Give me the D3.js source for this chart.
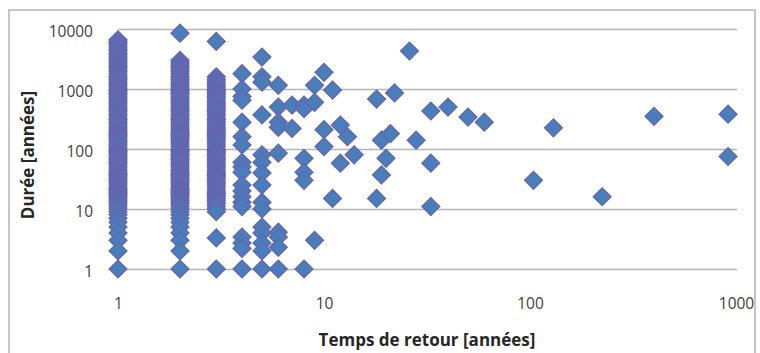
<!DOCTYPE html>
<html>
<head>
<meta charset="utf-8">
<script src="https://cdn.jsdelivr.net/npm/d3@7"></script>
<style>
  html, body { margin: 0; padding: 0; background: #ffffff; }
  svg { display: block; }
  .tick-label { font-family: "Open Sans", "Liberation Sans", sans-serif; font-size: 15.5px; fill: #404040; }
  .axis-title { font-family: "Open Sans", "Liberation Sans", sans-serif; font-size: 17px; font-weight: bold; fill: #262626; }
</style>
</head>
<body>
<svg id="chart" width="760" height="353"></svg>
<script>
// Return period (years) against event duration (years), log-log scatter.

// Dense columns: durations observed for the shortest return periods
const durationsT1 = [1, 2, 3, 4, 5, 6, 7, 8, 9, 10, 11, 12, 13, 14, 15, 16, 17, 18, 19, 20, 21, 22, 24, 26, 28, 30,
  32, 34, 36, 38, 40, 43, 46, 50, 54, 58, 62, 66, 70, 75, 80, 85, 90, 95, 100, 110, 120, 130, 140, 150, 160, 170,
  180, 190, 200, 215, 230, 250, 270, 290, 310, 330, 360, 390, 420, 450, 480, 520, 560, 600, 650, 700, 750, 800,
  850, 900, 950, 1000, 1080, 1160, 1250, 1350, 1450, 1550, 1650, 1800, 1950, 2100, 2250, 2400, 2600, 2800, 3000,
  3250, 3500, 3750, 4000, 4300, 4600, 5000, 5400, 5800, 6200, 6600];
const durationsT2 = [1, 2, 3, 4, 5, 6, 7, 8, 9, 10, 11, 12, 13, 14, 15, 16, 17, 18, 19, 20, 21, 22, 24, 26, 28, 30,
  32, 34, 36, 38, 40, 43, 46, 50, 54, 58, 62, 66, 70, 75, 80, 85, 90, 95, 100, 110, 120, 130, 140, 150, 160, 170,
  180, 190, 200, 215, 230, 250, 270, 290, 310, 330, 360, 390, 420, 450, 480, 520, 560, 600, 650, 700, 750, 800,
  850, 900, 950, 1000, 1080, 1160, 1250, 1350, 1450, 1550, 1650, 1800, 1950, 2100, 2250, 2400, 2600, 2800, 3000,
  8500];
const durationsT3 = [1, 3.3, 9, 10, 11, 12, 13, 14, 15, 16, 17, 18, 19, 20, 22, 24, 26, 28, 30, 32, 34, 36, 38, 40,
  43, 46, 50, 54, 58, 62, 66, 70, 75, 80, 85, 90, 95, 100, 110, 120, 130, 140, 150, 160, 170, 180, 190, 200, 215,
  230, 250, 270, 290, 310, 330, 360, 390, 420, 450, 480, 520, 560, 600, 650, 700, 750, 800, 850, 900, 950, 1000,
  1080, 1160, 1250, 1350, 1450, 1600, 6200];
const durationsT4 = [1, 2.2, 2.7, 3.4, 11, 13, 16, 20, 25, 41, 50, 60, 117, 160, 280, 650, 750, 1000, 1800];
const durationsT5 = [1, 2, 2.7, 4, 5, 10, 13, 25, 40, 60, 80, 370, 1300, 1600, 3400];
const durationsT6 = [1, 2.3, 3.4, 4.1, 85, 230, 280, 500, 1150];

// Sparse points for longer return periods
const sparseReturn   = [7, 7, 8, 8, 8, 8, 8, 8, 9, 9, 9, 10, 10, 10, 11, 11, 12, 12, 13, 14, 18, 18, 19, 19,
  20, 21, 22, 26, 28, 33, 33, 33, 40, 50, 60, 104, 130, 224, 400, 915, 915];
const sparseDuration = [540, 220, 540, 470, 70, 41, 30, 1, 1150, 600, 3, 1900, 210, 110, 960, 15, 250, 58, 160, 80,
  680, 15, 140, 37, 70, 180, 860, 4300, 140, 430, 58, 11, 500, 340, 280, 30, 225, 16, 350, 380, 75];

// Axis ticks
const xTickValues = [1, 10, 100, 1000];
const yTickValues = [1, 10, 100, 1000, 10000];

const xTitle = "Temps de retour [années]";
const yTitle = "Durée [années]";

// Assemble points; dense columns are drawn from the top down
const columns = [[1, durationsT1], [2, durationsT2], [3, durationsT3], [4, durationsT4], [5, durationsT5], [6, durationsT6]];
const points = [];
columns.forEach(([t, ds]) => {
  ds.slice().sort((a, b) => b - a).forEach(d => points.push({ t, d }));
});
sparseReturn.forEach((t, i) => points.push({ t, d: sparseDuration[i] }));

const svg = d3.select("#chart");

// Outer chart frame
svg.append("rect")
  .attr("x", 9).attr("y", 10).attr("width", 746).attr("height", 360)
  .attr("fill", "#ffffff").attr("stroke", "#c6c6c6").attr("stroke-width", 2);

const x = d3.scaleLog().domain([1, 1000]).range([118, 736]);
const y = d3.scaleLog().domain([1, 10000]).range([269, 29]);

// Horizontal gridlines
svg.append("g").selectAll("line")
  .data(yTickValues).join("line")
  .attr("x1", x(1)).attr("x2", x(1000) + 1)
  .attr("y1", d => Math.round(y(d)) + 0.5).attr("y2", d => Math.round(y(d)) + 0.5)
  .attr("stroke", "#b4b4b4").attr("stroke-width", 1.3);

// Y axis labels
const yAxis = d3.axisLeft(y).tickValues(yTickValues).tickFormat(d3.format("d")).tickSize(0).tickPadding(0);
const gy = svg.append("g").attr("transform", "translate(93,3)").call(yAxis);
gy.select(".domain").remove();
gy.selectAll("text").attr("class", "tick-label").attr("fill", null);

// X axis labels
const xAxis = d3.axisBottom(x).tickValues(xTickValues).tickFormat(d3.format("d")).tickSize(0).tickPadding(0);
const gx = svg.append("g").attr("transform", "translate(0,298)").call(xAxis);
gx.select(".domain").remove();
gx.selectAll("text").attr("class", "tick-label").attr("fill", null);

// Diamond markers
const diamond = d3.symbol().type(d3.symbolSquare).size(160);
svg.append("g").selectAll("path")
  .data(points).join("path")
  .attr("d", diamond)
  .attr("transform", p => `translate(${x(p.t)},${y(p.d)}) rotate(45)`)
  .attr("fill", "#4a7ebb")
  .attr("stroke", "#6466ae")
  .attr("stroke-width", 1.3);

// Axis titles
svg.append("text").attr("class", "axis-title")
  .attr("x", 427).attr("y", 346).attr("text-anchor", "middle")
  .text(xTitle);
svg.append("text").attr("class", "axis-title")
  .attr("transform", "translate(34,155) rotate(-90)")
  .attr("text-anchor", "middle")
  .text(yTitle);
</script>
</body>
</html>
